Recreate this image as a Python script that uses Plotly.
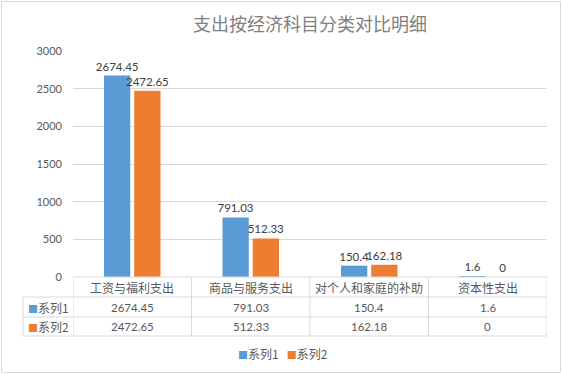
import plotly.graph_objects as go

# ---- data ----
title_text = "支出按经济科目分类对比明细"
categories = ["工资与福利支出", "商品与服务支出", "对个人和家庭的补助", "资本性支出"]
series_names = ["系列1", "系列2"]
series1 = [2674.45, 791.03, 150.4, 1.6]
series2 = [2472.65, 512.33, 162.18, 0]
y_ticks = [0, 500, 1000, 1500, 2000, 2500, 3000]

colors = ["#5B9BD5", "#ED7D31"]
TXT = "#595959"
GRID = "#D9D9D9"
FONT = "Lato, 'Noto Sans CJK SC', sans-serif"
CJK = "'Noto Sans CJK SC', sans-serif"

W, H = 563, 374
L, R, T, B = 73, 547, 51, 277  # plot area in pixels


def xp(px):
    return (px - L) / (R - L)


def yp(py):
    return (B - py) / (B - T)


def fmt(v):
    return f"{v:g}"


fig = go.Figure()
for name, vals, c in zip(series_names, [series1, series2], colors):
    fig.add_trace(go.Bar(
        x=categories, y=vals, name=name, marker=dict(color=c, line=dict(width=0)),
        text=[fmt(v) for v in vals], textposition="outside", constraintext="none",
        textfont=dict(family=FONT, size=11.5, color="#404040"),
        cliponaxis=False, hoverinfo="skip", showlegend=False,
    ))

shapes = []
line = dict(color=GRID, width=1)
# outer chart border
shapes.append(dict(type="rect", xref="paper", yref="paper",
                   x0=xp(1.5), x1=xp(560.5), y0=yp(1.5), y1=yp(372.5), line=line))
# table horizontal lines
shapes.append(dict(type="line", xref="paper", yref="paper", x0=0, x1=1, y0=yp(277), y1=yp(277), line=line))
for py in [297, 317, 336]:
    shapes.append(dict(type="line", xref="paper", yref="paper", x0=xp(23), x1=1, y0=yp(py), y1=yp(py), line=line))
# table vertical lines
shapes.append(dict(type="line", xref="paper", yref="paper", x0=xp(23), x1=xp(23), y0=yp(297), y1=yp(336), line=line))
for i in range(len(categories) + 1):
    shapes.append(dict(type="line", xref="x", yref="paper", x0=i - 0.5, x1=i - 0.5,
                       y0=yp(277), y1=yp(336), line=line))

annotations = []
# header row (category labels)
for cat in categories:
    annotations.append(dict(x=cat, y=yp(287), xref="x", yref="paper", text=cat, showarrow=False,
                            font=dict(family=CJK, size=12, color=TXT), xanchor="center", yanchor="middle"))
# data rows
for row_y, name, vals, c in zip([307, 326.5], series_names, [series1, series2], colors):
    annotations.append(dict(x=xp(26), y=yp(row_y), xref="paper", yref="paper",
                            text=f"<span style='color:{c};font-size:10px'>■</span>{name}", showarrow=False,
                            font=dict(family=CJK, size=12, color=TXT), xanchor="left", yanchor="middle"))
    for cat, v in zip(categories, vals):
        annotations.append(dict(x=cat, y=yp(row_y), xref="x", yref="paper", text=fmt(v), showarrow=False,
                                font=dict(family=FONT, size=11.5, color=TXT), xanchor="center", yanchor="middle"))

# legend (bottom, centred)
legend_text = "&nbsp;&nbsp;&nbsp;".join(
    f"<span style='color:{c};font-size:10px'>■</span>{n}" for n, c in zip(series_names, colors))
annotations.append(dict(x=xp(283), y=yp(353), xref="paper", yref="paper", text=legend_text, showarrow=False,
                        font=dict(family=CJK, size=12, color=TXT), xanchor="center", yanchor="middle"))

fig.update_layout(
    width=W, height=H,
    margin=dict(l=L, r=W - R, t=T, b=H - B, pad=0, autoexpand=False),
    paper_bgcolor="white", plot_bgcolor="white",
    title=dict(text=title_text, x=0.5, xref="paper", xanchor="center", y=1 - 25 / H, yanchor="middle",
               font=dict(family=CJK, size=18, color="#808080")),
    barmode="group", bargap=0.49, bargroupgap=0.13,
    xaxis=dict(showticklabels=False, showgrid=False, zeroline=False, showline=False,
               range=[-0.5, len(categories) - 0.5], fixedrange=True, automargin=False),
    yaxis=dict(range=[0, 3000], tickvals=y_ticks, ticktext=[str(t) for t in y_ticks],
               showgrid=True, gridcolor=GRID, gridwidth=1, zeroline=False, showline=False,
               ticks="", ticklabelstandoff=10, automargin=False,
               tickfont=dict(family=FONT, size=11, color=TXT), fixedrange=True),
    showlegend=False,
    shapes=shapes, annotations=annotations,
)

fig.write_html("out.html", config={"displayModeBar": False},
               post_script="document.body.style.margin='0';document.body.style.overflow='hidden';")
